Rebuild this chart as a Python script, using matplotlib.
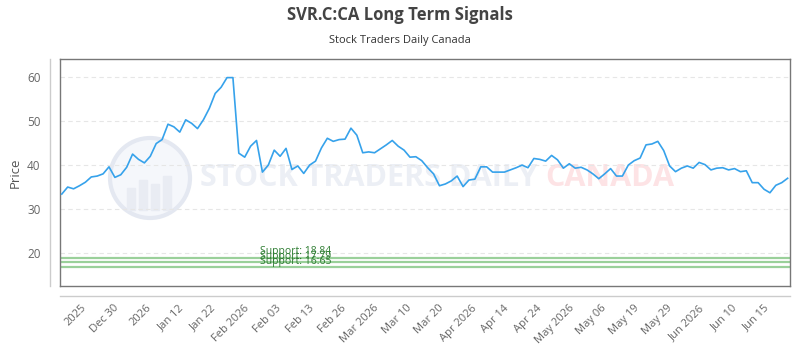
##########################################################
# Housekeeping
##########################################################

import numpy as np
import matplotlib
matplotlib.use('Agg')
import matplotlib.pyplot as plt
from matplotlib.lines import Line2D
from matplotlib.patches import Ellipse, Rectangle

plt.rcParams['font.family'] = ['Open Sans', 'DejaVu Sans']

##########################################################
# Data
##########################################################

title = 'SVR.C:CA Long Term Signals'
subtitle = 'Stock Traders Daily Canada'

prices = [
    33.3, 34.9, 34.5, 35.2, 36.0, 37.2, 37.4, 37.9, 39.5, 37.1,
    37.7, 39.4, 42.4, 41.2, 40.4, 41.9, 44.8, 45.7, 49.2, 48.6,
    47.4, 50.2, 49.4, 48.2, 50.2, 52.8, 56.2, 57.6, 59.8, 59.8,
    42.6, 41.7, 44.2, 45.5, 38.3, 39.9, 43.3, 41.9, 43.7, 38.9,
    39.7, 38.0, 39.9, 40.8, 43.8, 46.0, 45.3, 45.7, 45.8, 48.3,
    46.7, 42.7, 42.9, 42.7, 43.6, 44.5, 45.5, 44.2, 43.3, 41.7,
    41.8, 40.9, 39.3, 37.9, 35.2, 35.6, 36.3, 37.4, 35.0, 36.5,
    36.7, 39.5, 39.5, 38.3, 38.3, 38.3, 38.8, 39.3, 39.9, 39.3,
    41.4, 41.2, 40.8, 42.1, 41.1, 39.2, 40.2, 39.2, 39.4, 38.8,
    37.9, 36.8, 37.9, 39.1, 37.4, 37.4, 39.9, 40.9, 41.5, 44.5,
    44.7, 45.3, 43.2, 39.7, 38.4, 39.2, 39.7, 39.2, 40.5, 40.0,
    38.8, 39.2, 39.3, 38.8, 39.1, 38.4, 38.6, 35.9, 35.9, 34.4,
    33.6, 35.3, 35.9, 36.9,
]

supports = [18.84, 17.79, 16.65]

xticklabs = ['2025', 'Dec 30', '2026', 'Jan 12', 'Jan 22', 'Feb 2026',
             'Feb 03', 'Feb 13', 'Feb 26', 'Mar 2026', 'Mar 10', 'Mar 20',
             'Apr 2026', 'Apr 14', 'Apr 24', 'May 2026', 'May 06', 'May 19',
             'May 29', 'Jun 2026', 'Jun 10', 'Jun 15']
yticks = [20, 30, 40, 50, 60]

##########################################################
# Plot
##########################################################

fig = plt.figure(figsize=(8, 3.5), dpi=100)
ax = fig.add_axes([0.075, 0.183, 0.9125, 0.648])
ax.patch.set_alpha(0)

x = np.arange(len(prices))
ax.plot(x, prices, color='#36a2eb', lw=1.2, zorder=3)

# Support levels
for s in supports:
    ax.axhline(s, color='#8fcb8f', lw=1.6, alpha=0.9, zorder=2)
    ax.text(33.6, s + 0.1, f'Support: {s}', color='#2e7d32', fontsize=7.5,
            va='bottom', ha='left', zorder=4)

ax.set_xlim(-0.3, len(prices) - 0.6)
ax.set_ylim(12.4, 64)

# Ticks
xtick_pos = np.linspace(3.2, 119.0, len(xticklabs))
ax.set_xticks(xtick_pos)
ax.set_xticklabels(xticklabs, rotation=45, ha='right', rotation_mode='anchor',
                   fontsize=8, color='#666666')
ax.set_yticks(yticks)
ax.set_yticklabels([str(v) for v in yticks], fontsize=8.5, color='#666666')
ax.tick_params(axis='x', length=0, pad=12)
ax.tick_params(axis='y', length=0, pad=14)

ax.grid(axis='y', color='#e6e6e6', ls=(0, (4, 3)), lw=0.8)
ax.set_axisbelow(True)
for sp in ax.spines.values():
    sp.set_color('#777777')
    sp.set_linewidth(1.0)

ax.set_ylabel('Price', fontsize=9.5, color='#555555', labelpad=4)

# Offset axis lines
fig.add_artist(Line2D([50 / 800, 50 / 800], [1 - 59 / 350, 1 - 286 / 350],
                      color='#cccccc', lw=1))
fig.add_artist(Line2D([60 / 800, 790 / 800], [1 - 296 / 350, 1 - 296 / 350],
                      color='#cccccc', lw=1))

# Watermark (behind the axes)
wm_y = 1 - 178 / 350
fig.add_artist(Ellipse((150 / 800, wm_y), 80 / 800, 80 / 350,
                       transform=fig.transFigure, facecolor='#f5f7fb',
                       edgecolor='#e4e8f1', lw=3, zorder=-2))
for bx, bh in zip([127, 139, 151, 163], [22, 30, 26, 34]):
    fig.add_artist(Rectangle((bx / 800, (350 - 210) / 350), 8 / 800, bh / 350,
                             transform=fig.transFigure, color='#e9ecf3',
                             zorder=-1.5))
fig.text(200 / 800, wm_y, 'STOCK TRADERS DAILY', fontsize=22, fontweight='bold',
         color='#eceff5', va='center', ha='left', zorder=-1)
fig.text(545 / 800, wm_y, 'CANADA', fontsize=22, fontweight='bold',
         color='#fde3e5', va='center', ha='left', zorder=-1)

# Titles
fig.text(0.5, 1 - 15 / 350, title, ha='center', va='center', fontsize=12,
         fontweight='bold', color='#444444')
fig.text(0.5, 1 - 40 / 350, subtitle, ha='center', va='center', fontsize=8,
         color='#333333')

plt.savefig('out.png', dpi=100)
